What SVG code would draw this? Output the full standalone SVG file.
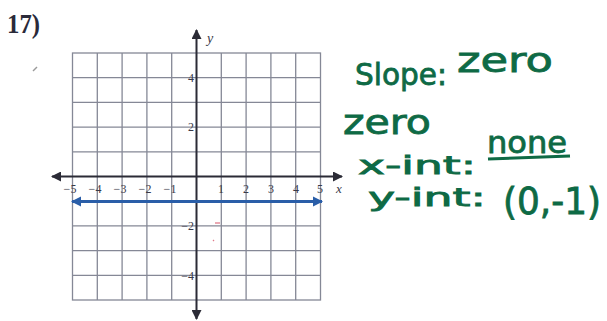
<svg xmlns="http://www.w3.org/2000/svg" width="607" height="321" viewBox="0 0 607 321">
<defs>
<style>
.grid line{stroke:#858896;stroke-width:1.3}
.axis{stroke:#2b2b36;stroke-width:2;fill:none}
.lbl{font-family:"Liberation Serif",serif;font-size:12px;fill:#3a3a48}
.hand{font-family:"DejaVu Sans",sans-serif;fill:#0e6a45;stroke:#0e6a45;stroke-width:0.8}
</style>
<marker id="ah" viewBox="0 0 10 10" refX="9" refY="5" markerWidth="5" markerHeight="5" orient="auto-start-reverse" markerUnits="strokeWidth">
<path d="M0,0 L10,5 L0,10 z" fill="#2b2b36"/>
</marker>
<marker id="bh" viewBox="0 0 10 10" refX="9" refY="5" markerWidth="3.5" markerHeight="3.5" orient="auto-start-reverse" markerUnits="strokeWidth">
<path d="M0,0 L10,5 L0,10 z" fill="#2a5ea8"/>
</marker>
</defs>
<rect width="607" height="321" fill="#ffffff"/>
<text x="7" y="33" font-family="Liberation Serif,serif" font-weight="bold" font-size="27" fill="#2a2a3a" textLength="33" lengthAdjust="spacingAndGlyphs">17)</text>
<line x1="33" y1="71" x2="37" y2="67" stroke="#9a9a9a" stroke-width="1.5"/>
<g id="grid" class="grid">
<rect x="72.5" y="53" width="248" height="247" fill="none" stroke="#858896" stroke-width="1.3"/>
<line x1="97.3" y1="53" x2="97.3" y2="300"/>
<line x1="122.1" y1="53" x2="122.1" y2="300"/>
<line x1="146.9" y1="53" x2="146.9" y2="300"/>
<line x1="171.7" y1="53" x2="171.7" y2="300"/>
<line x1="221.3" y1="53" x2="221.3" y2="300"/>
<line x1="246.1" y1="53" x2="246.1" y2="300"/>
<line x1="270.9" y1="53" x2="270.9" y2="300"/>
<line x1="295.7" y1="53" x2="295.7" y2="300"/>
<line x1="72.5" y1="77.7" x2="320.5" y2="77.7"/>
<line x1="72.5" y1="102.4" x2="320.5" y2="102.4"/>
<line x1="72.5" y1="127.1" x2="320.5" y2="127.1"/>
<line x1="72.5" y1="151.8" x2="320.5" y2="151.8"/>
<line x1="72.5" y1="201.2" x2="320.5" y2="201.2"/>
<line x1="72.5" y1="225.9" x2="320.5" y2="225.9"/>
<line x1="72.5" y1="250.6" x2="320.5" y2="250.6"/>
<line x1="72.5" y1="275.3" x2="320.5" y2="275.3"/>
</g>
<g id="axes">
<line class="axis" x1="52" y1="176.5" x2="342" y2="176.5" marker-start="url(#ah)" marker-end="url(#ah)"/>
<line class="axis" x1="196.5" y1="30" x2="196.5" y2="319" marker-start="url(#ah)" marker-end="url(#ah)"/>
<text x="336" y="193" font-family="Liberation Serif,serif" font-style="italic" font-size="13" fill="#3a3a48">x</text>
<text x="207" y="43" font-family="Liberation Serif,serif" font-style="italic" font-size="14" fill="#3a3a48">y</text>
</g>
<g id="xlabels" class="lbl" text-anchor="middle">
<text x="70" y="193">−5</text>
<text x="95" y="193">−4</text>
<text x="120" y="193">−3</text>
<text x="145" y="193">−2</text>
<text x="170" y="193">−1</text>
<text x="221" y="193">1</text>
<text x="246" y="193">2</text>
<text x="271" y="193">3</text>
<text x="296" y="193">4</text>
<text x="320" y="193">5</text>
</g>
<g id="ylabels" class="lbl" text-anchor="end">
<text x="194" y="82">4</text>
<text x="194" y="131">2</text>
<text x="194" y="230">−2</text>
<text x="194" y="280">−4</text>
</g>
<g id="marks" stroke="#e07a8a" stroke-width="1.3">
<line x1="215" y1="223" x2="220" y2="223"/>
<line x1="213" y1="240" x2="214" y2="241"/>
</g>
<g id="connectors">
<line x1="72" y1="201.5" x2="322" y2="201.5" stroke="#2a5ea8" stroke-width="3" marker-start="url(#bh)" marker-end="url(#bh)"/>
</g>
<g id="notes" class="hand">
<text x="355" y="85" font-size="30" textLength="92" lengthAdjust="spacingAndGlyphs">Slope:</text>
<text x="457" y="72" font-size="34" textLength="96" lengthAdjust="spacingAndGlyphs">zero</text>
<text x="343" y="134" font-size="34" textLength="88" lengthAdjust="spacingAndGlyphs">zero</text>
<text x="358" y="174" font-size="25" textLength="118" lengthAdjust="spacingAndGlyphs">x-int:</text>
<text x="487" y="153" font-size="30" textLength="80" lengthAdjust="spacingAndGlyphs">none</text>
<path d="M488 159 L570 156" fill="none" stroke-width="3"/>
<text x="368" y="206" font-size="25" textLength="118" lengthAdjust="spacingAndGlyphs">y-int:</text>
<text x="503" y="214" font-size="38" textLength="98" lengthAdjust="spacingAndGlyphs">(0,-1)</text>
</g>
</svg>
